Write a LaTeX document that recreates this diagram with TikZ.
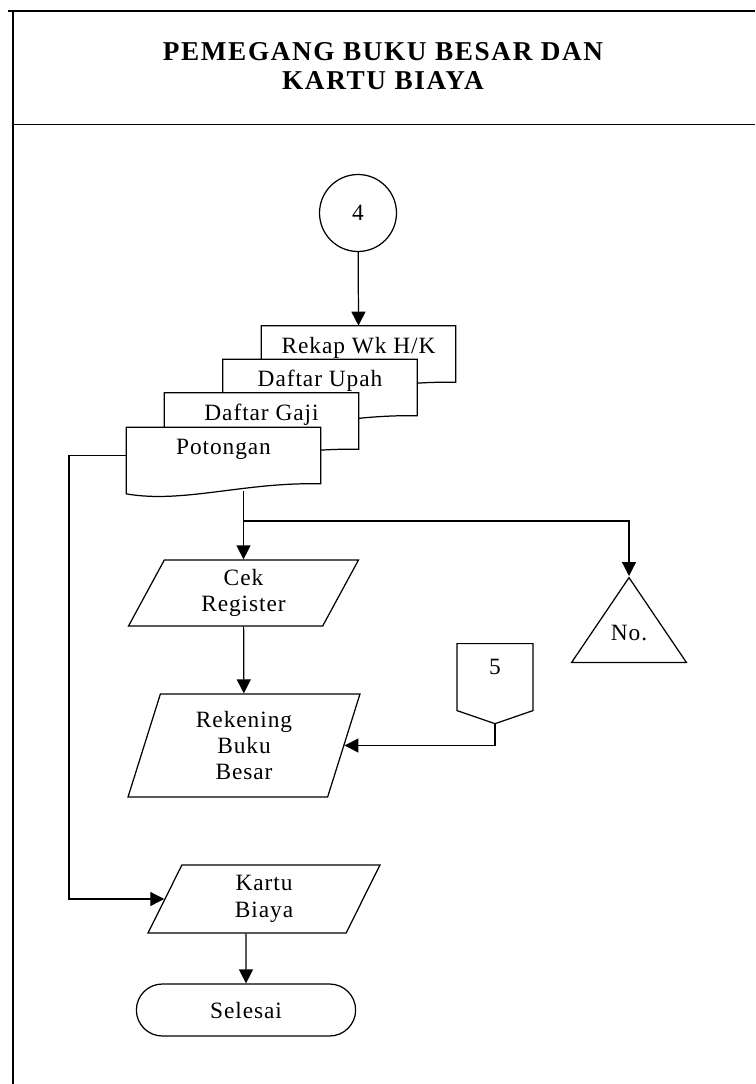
\documentclass[tikz,border=0pt]{standalone}
\usepackage{fontspec}
\setmainfont{Liberation Serif}
\newfontfamily\isifont[LetterSpace=4]{Liberation Serif}
\newfontfamily\judulfont[LetterSpace=6]{Liberation Serif}
\usetikzlibrary{arrows.meta,positioning,shapes.geometric,shapes.misc,shapes.symbols,backgrounds}

\begin{document}
\begin{tikzpicture}[
    x=0.02cm, y=-0.02cm,
    every node/.style={font=\isifont\fontsize{13.3}{15}\selectfont, align=center},
    garis/.style={line width=0.7pt, draw=black},
    arr/.style={garis, -{Triangle[length=0.28cm, width=0.28cm]}},
    konektor/.style={circle, garis, minimum size=1.54cm, inner sep=0pt},
    docu/.style={rectangle, minimum width=3.88cm, minimum height=1.12cm, text height=10pt, text depth=11pt, inner sep=0pt},
    io/.style={trapezium, garis, trapezium stretches body, inner sep=1pt},
    segitiga/.style={isosceles triangle, shape border rotate=90, isosceles triangle stretches, garis, minimum width=2.3cm, minimum height=1.7cm, inner sep=0pt, text height=9pt, text depth=6pt},
    offpage/.style={signal, signal to=south, signal pointer angle=142, garis, minimum width=1.52cm, minimum height=1.38cm, inner sep=0pt, text height=9pt, text depth=12pt},
    terminal/.style={rounded rectangle, garis, minimum width=4.62cm, minimum height=1.04cm}
]
    \useasboundingbox (0,0) rectangle (755,1084);

    % bingkai kolom
    \draw[line width=1.2pt] (8,11) -- (755,11);
    \draw[line width=0.7pt] (13,11) -- (13,1084);
    \draw[line width=0.5pt] (13,124) -- (755,124);
    \node[font=\judulfont\bfseries\fontsize{15.5}{16.5}\selectfont] (judul) at (383,66) {PEMEGANG BUKU BESAR DAN\\KARTU BIAYA};

    \node (empat) [konektor] at (358,213) {4};

    % dokumen bertumpuk
    \node (rekap) [docu] at (358.5,354) {Rekap Wk H/K};
    \node (upah) [docu] at (320,387.5) {Daftar Upah};
    \node (gaji) [docu] at (261.5,421) {Daftar Gaji};
    \node (poto) [docu] at (223.5,455.5) {Potongan};
    \begin{scope}[on background layer]
        \foreach \d in {rekap,upah,gaji,poto}
            \draw[garis, fill=white] (\d.north west) -- (\d.north east) -- (\d.south east)
                .. controls +(-77,-2) and +(57,10) .. ([yshift=-0.2cm]\d.south west) -- cycle;
    \end{scope}

    \node (cek) [io, trapezium left angle=55, trapezium right angle=125, minimum width=4.6cm, minimum height=1.32cm] at (243.5,593) {Cek\\Register};
    \node (rekening) [io, trapezium left angle=66, trapezium right angle=114, minimum width=4.64cm, minimum height=2.06cm] at (244,745.5) {Rekening\\Buku\\Besar};
    \node (kartu) [io, trapezium left angle=56, trapezium right angle=124, minimum width=4.64cm, minimum height=1.36cm] at (264,899) {Kartu\\Biaya};
    \node (selesai) [terminal] at (246,1010) {Selesai};
    \node (nomor) [segitiga, anchor=apex] at (629,576) {No.};
    \node (lima) [offpage, anchor=north] at (495,643) {5};

    \coordinate (cabang) at (243,521);
    \coordinate (rel) at (69,0);

    \draw[arr] (empat) -- (rekap.north);
    \draw[arr] ([yshift=-0.14cm]cek.north |- poto.south) -- (cek.north);
    \draw[arr] (cabang) -| (nomor.apex);
    \draw[arr] (cek) -- (rekening);
    \draw[arr] (lima.south) |- (rekening);
    \draw[arr] (poto.west) -- (poto.west -| rel) |- (kartu);
    \draw[arr] (selesai.north |- kartu.south) -- (selesai);
\end{tikzpicture}
\end{document}
